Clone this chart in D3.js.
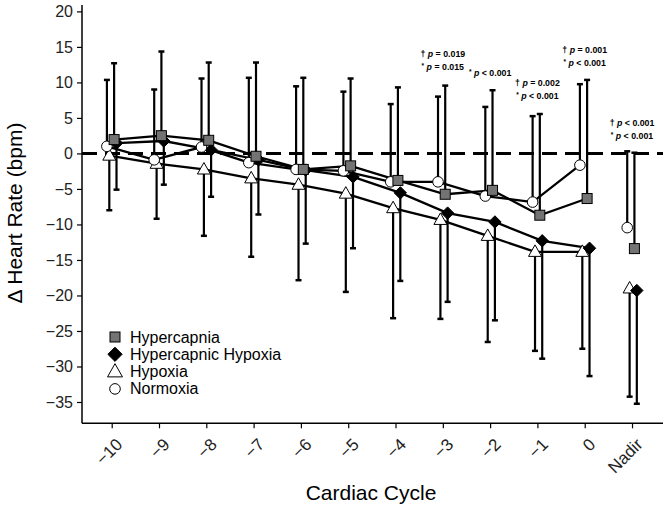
<!DOCTYPE html>
<html><head><meta charset="utf-8">
<script src="https://cdn.jsdelivr.net/npm/d3@7"></script>
<style>body{margin:0;background:#fff}svg{display:block;font-family:"Liberation Sans",Arial,Helvetica,sans-serif}</style>
</head><body><svg id="c" width="664" height="511"></svg>
<script>
const categories = ["\u221210","\u22129","\u22128","\u22127","\u22126","\u22125","\u22124","\u22123","\u22122","\u22121","0","Nadir"];
const yTicks = [20,15,10,5,0,-5,-10,-15,-20,-25,-30,-35];
const hypercapnia      = [1.95, 2.5, 1.85, -0.4, -2.25, -1.75, -3.8, -5.75, -5.2, -8.7, -6.35, -13.4];
const hypercapniaUpper = [12.7, 14.35, 12.8, 12.8, 10.65, 10.55, 9.3, 9.55, 8.9, 5.55, 10.35, 0.1];
const normoxia         = [1.0, -0.9, 0.9, -1.3, -2.25, -2.45, -4.0, -4.0, -6.0, -6.85, -1.65, -10.45];
const normoxiaUpper    = [10.35, 9.0, 10.55, 10.65, 9.45, 8.7, 6.95, 8.0, 6.55, 5.25, 9.75, 0.3];
const hypoxia          = [-0.3, -1.45, -2.25, -3.5, -4.4, -5.65, -7.7, -9.35, -11.6, -13.85, -13.85, -19.0];
const hypoxiaLower     = [-8.0, -9.2, -11.6, -14.55, -17.85, -19.5, -23.2, -23.3, -26.55, -27.8, -27.5, -34.25];
const hypercapnicHypoxia      = [1.45, 1.75, 0.5, -0.9, -2.35, -3.3, -5.55, -8.4, -9.65, -12.3, -13.35, -19.3];
const hypercapnicHypoxiaLower = [-5.1, -4.4, -6.1, -8.6, -12.7, -13.35, -17.95, -20.9, -23.5, -28.9, -31.35, -35.25];
const annotations = [
  {cat:"\u22123", lines:[["\u2020","= 0.019"],["*","= 0.015"]]},
  {cat:"\u22122", lines:[["*","< 0.001"]]},
  {cat:"\u22121", lines:[["\u2020","= 0.002"],["*","< 0.001"]]},
  {cat:"0", lines:[["\u2020","= 0.001"],["*","< 0.001"]]},
  {cat:"Nadir", lines:[["\u2020","< 0.001"],["*","< 0.001"]]}
];
const annoY = {"\u22123":57, "\u22122":76, "\u22121":86, "0":53, "Nadir":126};

const svg = d3.select("#c");
const x = d3.scaleLinear().domain([-0.628, 11.655]).range([82, 663]);
const y = d3.scaleLinear().domain([-38.0, 20.9]).range([423.3, 5]);
const xi = c => x(categories.indexOf(c));

// axes
const yAxis = d3.axisLeft(y).tickValues(yTicks).tickSize(5).tickPadding(4)
  .tickFormat(d => d < 0 ? "\u2212" + Math.abs(d) : d);
const gy = svg.append("g").attr("transform","translate(82,0)").call(yAxis);
gy.select(".domain").attr("stroke-width",1.5).attr("d","M0,"+y(20.9)+"V"+y(-38));
gy.selectAll(".tick line").attr("stroke-width",1.2);
gy.selectAll("text").attr("font-size",16).attr("fill","#222");

const xAxis = d3.axisBottom(x).tickValues(d3.range(categories.length)).tickSize(5).tickFormat(i => categories[i]);
const gx = svg.append("g").attr("transform","translate(0,"+y(-38)+")").call(xAxis);
gx.select(".domain").attr("stroke-width",1.5).attr("d","M82,0H663");
gx.selectAll(".tick line").attr("stroke-width",1.2);
gx.selectAll("text").attr("font-size",17).attr("fill","#222")
  .attr("text-anchor","end").attr("y",0).attr("dy","0.35em")
  .attr("transform","translate(7,18) rotate(-45)");

svg.append("text").attr("x",371).attr("y",500).attr("text-anchor","middle")
  .attr("font-size",21).text("Cardiac Cycle");
svg.append("text").attr("transform","translate(22,213) rotate(-90)").attr("text-anchor","middle")
  .attr("font-size",21).text("\u0394 Heart Rate (bpm)");

// zero dashed line
svg.append("line").attr("x1",82).attr("x2",663).attr("y1",y(0)).attr("y2",y(0))
  .attr("stroke","#000").attr("stroke-width",3).attr("stroke-dasharray","15,8");

const series = [
  {name:"Hypercapnia", vals:hypercapnia, err:hypercapniaUpper, off:1.5, shape:"square"},
  {name:"Hypercapnic Hypoxia", vals:hypercapnicHypoxia, err:hypercapnicHypoxiaLower, off:3, shape:"diamond"},
  {name:"Hypoxia", vals:hypoxia, err:hypoxiaLower, off:-1.5, shape:"triangle"},
  {name:"Normoxia", vals:normoxia, err:normoxiaUpper, off:-3, shape:"circle"}
];

// error bars
series.forEach(s => {
  const g = svg.append("g");
  s.vals.forEach((v,i) => {
    const cx = x(i) + s.off * 1.6;
    g.append("line").attr("x1",cx).attr("x2",cx).attr("y1",y(v)).attr("y2",y(s.err[i]))
      .attr("stroke","#000").attr("stroke-width",2.2);
    g.append("line").attr("x1",cx-3).attr("x2",cx+3).attr("y1",y(s.err[i])).attr("y2",y(s.err[i]))
      .attr("stroke","#000").attr("stroke-width",2.5);
  });
});

// lines (cycles -10..0)
const line = d3.line().x(d => d[0]).y(d => y(d[1]));
series.forEach(s => {
  const pts = s.vals.slice(0,11).map((v,i) => [x(i)+s.off*1.6, v]);
  svg.append("path").attr("d",line(pts)).attr("fill","none").attr("stroke","#000").attr("stroke-width",2.3);
});

function marker(g, shape, cx, cy, sc) {
  sc = sc || 1;
  if (shape === "square") {
    g.append("rect").attr("x",cx-5*sc).attr("y",cy-5*sc).attr("width",10*sc).attr("height",10*sc)
      .attr("fill","#737373").attr("stroke","#000").attr("stroke-width",1);
  } else if (shape === "circle") {
    g.append("circle").attr("cx",cx).attr("cy",cy).attr("r",5.3*sc)
      .attr("fill","#fff").attr("stroke","#000").attr("stroke-width",1);
  } else if (shape === "triangle") {
    const w = 6.5*sc, h = 11.5*sc;
    g.append("path").attr("d",`M${cx},${cy-h*0.6}L${cx+w},${cy+h*0.4}L${cx-w},${cy+h*0.4}Z`)
      .attr("fill","#fff").attr("stroke","#000").attr("stroke-width",1);
  } else {
    const r = 6.2*sc;
    g.append("path").attr("d",`M${cx},${cy-r}L${cx+r},${cy}L${cx},${cy+r}L${cx-r},${cy}Z`)
      .attr("fill","#000").attr("stroke","#000").attr("stroke-width",1);
  }
}

const drawOrder = [series[2], series[1], series[3], series[0]];
drawOrder.forEach(s => {
  const g = svg.append("g");
  s.vals.forEach((v,i) => marker(g, s.shape, x(i)+s.off*1.6, y(v)));
});

// legend
const lg = svg.append("g");
series.forEach((s,k) => {
  const cy = 337 + k*17.3;
  marker(lg, s.shape, 115, cy, s.shape==="triangle"||s.shape==="diamond" ? 1.15 : 1);
  lg.append("text").attr("x",130).attr("y",cy+5.5).attr("font-size",16).text(s.name);
});

// annotations
annotations.forEach(a => {
  a.lines.forEach((ln,j) => {
    const t = svg.append("text").attr("x",xi(a.cat)).attr("y",annoY[a.cat] + j*13)
      .attr("text-anchor","middle").attr("font-size",8.8).attr("font-weight","bold");
    if (ln[0] === "*") t.append("tspan").attr("font-size",6.5).attr("dy",-2).text("*");
    else t.append("tspan").text("\u2020");
    t.append("tspan").attr("dy", ln[0]==="*"?2:0).text(" ");
    t.append("tspan").attr("font-style","italic").text("p");
    t.append("tspan").text(" " + ln[1]);
  });
});
</script></body></html>
